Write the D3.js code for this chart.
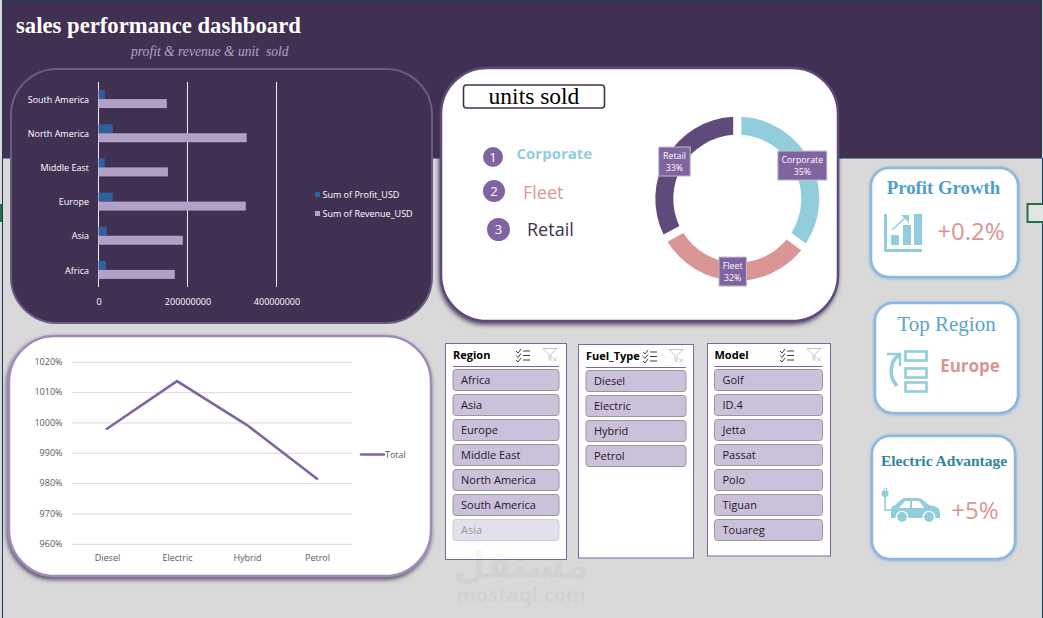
<!DOCTYPE html>
<html>
<head>
<meta charset="utf-8">
<script src="https://cdn.jsdelivr.net/npm/d3@7"></script>
<style>
  html, body { margin: 0; padding: 0; background: #d9d9d9; overflow: hidden; }
  svg { display: block; }
  text { font-family: "Open Sans", "Noto Sans", sans-serif; }
  .serif { font-family: "Liberation Serif", serif; }
</style>
</head>
<body>
<svg id="board" width="1043" height="618"></svg>
<script>
// Revenue and profit by region
const regions = ["South America", "North America", "Middle East", "Europe", "Asia", "Africa"];
const profitUsd = [14000000, 32000000, 14000000, 32000000, 18700000, 16500000];
const revenueUsd = [153500000, 333000000, 156000000, 331000000, 189500000, 171500000];
const revenueTicks = [0, 200000000, 400000000];

// Total by fuel type
const fuelTypes = ["Diesel", "Electric", "Hybrid", "Petrol"];
const fuelTotals = [998.1, 1013.8, 999.3, 981.6];
const fuelTicks = [960, 970, 980, 990, 1000, 1010, 1020];

// Units sold by channel
const channels = ["Corporate", "Fleet", "Retail"];
const channelShare = [35, 32, 33];
const channelColors = ["#92cddc", "#d99694", "#604a7b"];

// Slicer entries
const regionItems = ["Africa", "Asia", "Europe", "Middle East", "North America", "South America"];
const regionGhost = "Asia";
const fuelItems = ["Diesel", "Electric", "Hybrid", "Petrol"];
const modelItems = ["Golf", "ID.4", "Jetta", "Passat", "Polo", "Tiguan", "Touareg"];

const PURPLE_DARK = "#403152", PURPLE = "#8064a2", LILAC = "#b2a1c7";
const svg = d3.select("#board");
const defs = svg.append("defs");

// Card shadows
function shadow(id, color, dx, dy, blur) {
  defs.append("filter").attr("id", id)
    .attr("x", "-15%").attr("y", "-15%").attr("width", "130%").attr("height", "130%")
    .append("feDropShadow")
    .attr("dx", dx).attr("dy", dy).attr("stdDeviation", blur)
    .attr("flood-color", color).attr("flood-opacity", 0.85);
}
shadow("cardShadow", "#403152", -1, 2.5, 2);
shadow("kpiShadow", "#6fa8d8", 0, 0.5, 1.8);

// Sheet background and header band
svg.append("rect").attr("width", 1043).attr("height", 618).attr("fill", "#d9d9d9");
svg.append("rect").attr("x", 2.5).attr("y", 0.5).attr("width", 1039).attr("height", 157.5)
  .attr("fill", PURPLE_DARK).attr("stroke", "#1f3a5a");
svg.append("rect").attr("x", 2).attr("y", 158).attr("width", 1).attr("height", 460).attr("fill", "#1f3a5a");
svg.append("rect").attr("x", 1042).attr("y", 158).attr("width", 1).attr("height", 460).attr("fill", "#1f3a5a");
svg.append("rect").attr("x", 0).attr("y", 204).attr("width", 2).attr("height", 18).attr("fill", "#217346");
svg.append("rect").attr("x", 1027.5).attr("y", 204).attr("width", 20).attr("height", 18)
  .attr("fill", "#e4e4e4").attr("stroke", "#217346").attr("stroke-width", 2);

svg.append("text").attr("class", "serif").attr("x", 16).attr("y", 33)
  .attr("font-size", 22.7).attr("font-weight", 700).attr("fill", "#fff")
  .text("sales performance dashboard");
svg.append("text").attr("class", "serif").attr("x", 131).attr("y", 56)
  .attr("font-size", 13.6).attr("font-style", "italic").attr("fill", LILAC)
  .attr("xml:space", "preserve").text("profit & revenue & unit  sold");

// Cards
function card(x, y, w, h, r, fill, stroke, filter, sw) {
  return svg.append("rect").attr("x", x).attr("y", y).attr("width", w).attr("height", h)
    .attr("rx", r).attr("ry", r).attr("fill", fill).attr("stroke", stroke)
    .attr("stroke-width", sw || 2).attr("filter", filter ? `url(#${filter})` : null);
}

// ---- Horizontal grouped bars ----
card(11, 69, 421, 254, 46, PURPLE_DARK, "#6b5b82", null);
{
  const x = d3.scaleLinear().domain([0, 400000000]).range([98.5, 276.5]);
  const y = d3.scaleBand().domain(regions).range([82, 287]);
  const half = 9;
  const g = svg.append("g");

  g.append("g").selectAll("line").data(revenueTicks).join("line")
    .attr("x1", d => x(d)).attr("x2", d => x(d)).attr("y1", 82).attr("y2", 287)
    .attr("stroke", "#eeeaf3").attr("stroke-width", 1);

  g.append("g").selectAll("rect").data(regions).join("rect")
    .attr("x", x(0)).attr("y", d => y(d) + y.bandwidth() / 2 - half)
    .attr("width", (d, i) => x(profitUsd[i]) - x(0)).attr("height", half)
    .attr("fill", "#2f5f9e");
  g.append("g").selectAll("rect").data(regions).join("rect")
    .attr("x", x(0)).attr("y", d => y(d) + y.bandwidth() / 2)
    .attr("width", (d, i) => x(revenueUsd[i]) - x(0)).attr("height", half)
    .attr("fill", LILAC);

  const xAxis = d3.axisBottom(x).tickValues(revenueTicks).tickFormat(d3.format("d")).tickSize(0).tickPadding(0);
  const ax = g.append("g").attr("transform", "translate(0,305)").call(xAxis);
  ax.select(".domain").remove();
  ax.selectAll("text").attr("fill", "#fff").attr("font-size", 9).attr("dy", 0);

  const yAxis = d3.axisLeft(y).tickSize(0).tickPadding(0);
  const ay = g.append("g").attr("transform", "translate(89,0.8)").call(yAxis);
  ay.select(".domain").remove();
  ay.selectAll("text").attr("fill", "#fff").attr("font-size", 9);

  const legend = [["Sum of Profit_USD", "#2f5f9e", 195], ["Sum of Revenue_USD", LILAC, 214]];
  legend.forEach(([label, color, ly]) => {
    g.append("rect").attr("x", 315).attr("y", ly - 3).attr("width", 5).attr("height", 5).attr("fill", color);
    g.append("text").attr("x", 322.5).attr("y", ly).attr("dy", "0.35em")
      .attr("font-size", 9).attr("fill", "#fff").text(label);
  });
}

// ---- Units sold ----
card(441, 68, 397, 253, 46, "#fff", "#5f497a", "cardShadow", 2.5);
svg.append("rect").attr("x", 463.5).attr("y", 85).attr("width", 141).attr("height", 23).attr("rx", 3)
  .attr("fill", "#fff").attr("stroke", PURPLE_DARK).attr("stroke-width", 1.6);
svg.append("text").attr("class", "serif").attr("x", 534).attr("y", 104).attr("text-anchor", "middle")
  .attr("font-size", 23.5).attr("fill", "#000").text("units sold");

{
  const rank = [
    { cx: 493, cy: 157, r: 10, tx: 516.5, ty: 154, size: 15, weight: 700, color: channelColors[0] },
    { cx: 494, cy: 191, r: 11, tx: 523, ty: 193, size: 18, weight: 400, color: channelColors[1] },
    { cx: 498.5, cy: 229.5, r: 11.5, tx: 527, ty: 230, size: 18, weight: 400, color: PURPLE_DARK }
  ];
  rank.forEach((d, i) => {
    svg.append("circle").attr("cx", d.cx).attr("cy", d.cy).attr("r", d.r).attr("fill", PURPLE);
    svg.append("text").attr("x", d.cx).attr("y", d.cy).attr("dy", "0.36em").attr("text-anchor", "middle")
      .attr("font-size", 13).attr("fill", "#fff").text(i + 1);
    svg.append("text").attr("x", d.tx).attr("y", d.ty).attr("dy", "0.35em")
      .attr("font-size", d.size).attr("font-weight", d.weight).attr("fill", d.color).text(channels[i]);
  });

  const pie = d3.pie().sort(null).value(d => d)(channelShare);
  const arc = d3.arc().innerRadius(64).outerRadius(82).padAngle(0.1).padRadius(82);
  const mid = d3.arc().innerRadius(73).outerRadius(73);
  const donut = svg.append("g").attr("transform", "translate(737.3,198.7)");
  donut.selectAll("path").data(pie).join("path")
    .attr("d", arc).attr("fill", (d, i) => channelColors[i]);

  const boxW = [49, 27.5, 31.5], boxH = 29;
  const tags = donut.selectAll("g").data(pie).join("g")
    .attr("transform", d => `translate(${mid.centroid(d)})`);
  tags.append("rect")
    .attr("x", (d, i) => -boxW[i] / 2).attr("y", -boxH / 2)
    .attr("width", (d, i) => boxW[i]).attr("height", boxH)
    .attr("fill", PURPLE).attr("stroke", "#bfbfbf");
  tags.append("text").attr("text-anchor", "middle").attr("y", -3).attr("font-size", 8.8)
    .attr("fill", "#fff").text((d, i) => channels[i]);
  tags.append("text").attr("text-anchor", "middle").attr("y", 9.5).attr("font-size", 8.8)
    .attr("fill", "#fff").text(d => d.data + "%");
}

// ---- Total by fuel type ----
card(9, 336, 422, 240, 46, "#fff", "#a08cba", "cardShadow", 2.5);
{
  const x = d3.scalePoint().domain(fuelTypes).range([107, 317]);
  const y = d3.scaleLinear().domain([960, 1020]).range([544.3, 362.3]);
  const g = svg.append("g");

  const yAxis = d3.axisLeft(y).tickValues(fuelTicks).tickFormat(d => d + "%").tickSize(0).tickPadding(0);
  const ay = g.append("g").attr("transform", "translate(62.5,-0.6)").call(yAxis);
  ay.select(".domain").remove();
  ay.selectAll("text").attr("fill", "#595959").attr("font-size", 9);

  g.append("g").selectAll("line").data(fuelTicks).join("line")
    .attr("x1", 72).attr("x2", 352).attr("y1", d => y(d)).attr("y2", d => y(d))
    .attr("stroke", "#d9d9d9").attr("stroke-width", 1);

  const xAxis = d3.axisBottom(x).tickSize(0).tickPadding(0);
  const ax = g.append("g").attr("transform", "translate(0,555)").call(xAxis);
  ax.select(".domain").remove();
  ax.selectAll("text").attr("fill", "#595959").attr("font-size", 9);

  const line = d3.line().x((d, i) => x(fuelTypes[i])).y(d => y(d));
  g.append("path").datum(fuelTotals).attr("d", line).attr("fill", "none")
    .attr("stroke", PURPLE).attr("stroke-width", 2.6).attr("stroke-linecap", "round");

  g.append("line").attr("x1", 361).attr("x2", 384).attr("y1", 454.5).attr("y2", 454.5)
    .attr("stroke", PURPLE).attr("stroke-width", 2.6).attr("stroke-linecap", "round");
  g.append("text").attr("x", 385).attr("y", 454.5).attr("dy", "0.35em")
    .attr("font-size", 9).attr("fill", "#595959").text("Total");
}

// ---- Slicers ----
function slicer(opts) {
  const { x, y, w, h, bx, bw, title, items, iconX, filterX, ghost, textDx } = opts;
  const g = svg.append("g");
  g.append("rect").attr("x", x).attr("y", y).attr("width", w).attr("height", h)
    .attr("fill", "#fff").attr("stroke", PURPLE);
  g.append("text").attr("x", bx).attr("y", y + 11.5).attr("dy", "0.35em")
    .attr("font-size", 11).attr("font-weight", 700).attr("fill", "#000").text(title);
  g.append("line").attr("x1", bx).attr("x2", bx + bw).attr("y1", y + 23).attr("y2", y + 23)
    .attr("stroke", PURPLE);

  // multi-select toggle
  const sel = g.append("g").attr("transform", `translate(${iconX},${y + 5})`)
    .attr("fill", "none").attr("stroke", "#404040").attr("stroke-width", 1);
  [2.5, 7, 11.5].forEach(t => {
    sel.append("path").attr("d", `M0 ${t}l2 2 3-4`);
    sel.append("line").attr("x1", 7).attr("x2", 14).attr("y1", t).attr("y2", t);
  });

  // clear-filter button
  const clr = g.append("g").attr("transform", `translate(${filterX},${y + 5})`)
    .attr("fill", "none").attr("stroke", "#c4c4c4").attr("stroke-width", 1);
  clr.append("path").attr("d", "M0 0H14L8 6V12L6 11V6Z");
  clr.append("path").attr("d", "M10 9l4 4M14 9l-4 4");

  const rows = items.map((label, i) => ({ label, i, ghost: false }));
  if (ghost) rows.push({ label: ghost, i: items.length, ghost: true });
  const row = g.selectAll("g.row").data(rows).join("g").attr("class", "row")
    .attr("transform", d => `translate(${bx},${y + 26 + d.i * 25})`);
  row.append("rect").attr("width", bw).attr("height", 21).attr("rx", 3)
    .attr("fill", d => d.ghost ? "#e3dfec" : "#ccc1da")
    .attr("stroke", d => d.ghost ? "#d0d0d0" : "#989898");
  row.append("text").attr("x", textDx).attr("y", 10.5).attr("dy", "0.35em")
    .attr("font-size", 11).attr("fill", d => d.ghost ? "#9a9a9a" : "#1f1a2a").text(d => d.label);
}
slicer({ x: 445.5, y: 343.5, w: 121, h: 216, bx: 453, bw: 106, title: "Region",
  items: regionItems, ghost: regionGhost, iconX: 516, filterX: 543, textDx: 8 });
slicer({ x: 578.5, y: 344.5, w: 115, h: 213.5, bx: 586, bw: 100, title: "Fuel_Type",
  items: fuelItems, iconX: 643, filterX: 669, textDx: 8 });
slicer({ x: 707.5, y: 343.5, w: 123, h: 212.5, bx: 714.5, bw: 108, title: "Model",
  items: modelItems, iconX: 780, filterX: 807, textDx: 8 });

// ---- KPI cards ----
const SKY = "#92cddc", ROSE = "#d99694";
card(871, 168, 147, 109, 18, "#fff", "#8db8e0", "kpiShadow", 2.5);
card(875, 303, 143, 110, 18, "#fff", "#8db8e0", "kpiShadow", 2.5);
card(872, 436, 143, 123, 18, "#fff", "#8db8e0", "kpiShadow", 2.5);

function kpiText(x, y, size, fill, label, weight, cls) {
  const t = svg.append("text").attr("x", x).attr("y", y).attr("text-anchor", "middle")
    .attr("font-size", size).attr("fill", fill).attr("font-weight", weight || 400).text(label);
  if (cls) t.attr("class", cls);
  return t;
}
kpiText(943.5, 194, 18.8, "#4f9fca", "Profit Growth", 700, "serif");
kpiText(971, 240, 24, ROSE, "+0.2%");
kpiText(946.5, 331, 21, "#5ba3cb", "Top Region", 400, "serif");
kpiText(970, 372, 17, ROSE, "Europe", 700);
kpiText(944, 466, 15.5, "#31859c", "Electric Advantage", 700, "serif");
kpiText(975, 519, 24, ROSE, "+5%");

// Rising-bars icon
const ic1 = svg.append("g").attr("fill", SKY);
ic1.append("path").attr("d", "M884 214h3v35h35v3h-38z");
ic1.append("rect").attr("x", 891).attr("y", 235).attr("width", 8).attr("height", 10);
ic1.append("rect").attr("x", 903).attr("y", 225).attr("width", 8).attr("height", 20);
ic1.append("rect").attr("x", 914).attr("y", 214).attr("width", 8).attr("height", 31);
ic1.append("path").attr("d", "M892 230L906 217").attr("stroke", SKY).attr("stroke-width", 1.6).attr("fill", "none");
ic1.append("path").attr("d", "M901 215h8v8z");

// Ranked-list icon
const ic2 = svg.append("g").attr("fill", "none").attr("stroke", SKY).attr("stroke-width", 2.6);
ic2.append("rect").attr("x", 905.5).attr("y", 351.5).attr("width", 21).attr("height", 9);
ic2.append("rect").attr("x", 905.5).attr("y", 368.5).attr("width", 21).attr("height", 9);
ic2.append("rect").attr("x", 905.5).attr("y", 382.5).attr("width", 21).attr("height", 9);
ic2.append("path").attr("d", "M897 386C888 376 890 361 899 355").attr("stroke-width", 3.6);
ic2.append("path").attr("d", "M887 354H900V366").attr("stroke-width", 2.4);

// Plug-in car icon
const ic3 = svg.append("g").attr("fill", SKY);
ic3.append("path").attr("d", "M885 496V510H893").attr("fill", "none").attr("stroke", SKY).attr("stroke-width", 1.6);
ic3.append("path").attr("d", "M882 491h1.5v-3h1v3h1.5v-3h1v3h1.5v4l-2 2h-3l-2-2z");
ic3.append("path").attr("d", "M891 510q0-4 4-5l7-6q1-1 4-1h12q3 0 5 2l6 5q8 1 10 4q1 2 1 7v2H891z");
ic3.append("path").attr("d", "M905 501h5v7h-11zM912 501h5q2 0 3 1l4 6h-12z").attr("fill", "#fff");
[902, 929].forEach(cx => {
  ic3.append("circle").attr("cx", cx).attr("cy", 517).attr("r", 5.6).attr("stroke", "#fff").attr("stroke-width", 1.4);
});

// Watermark, laid faintly over the sheet
const mark = svg.append("g").attr("fill", "#000").attr("fill-opacity", 0.055).attr("text-anchor", "middle");
mark.append("text").attr("x", 521).attr("y", 578).attr("font-size", 37).attr("font-weight", 700)
  .style("font-family", '"DejaVu Sans", sans-serif').text("مستقل");
mark.append("text").attr("x", 521).attr("y", 602).attr("font-size", 20).attr("font-weight", 700)
  .text("mostaql.com");
</script>
</body>
</html>
